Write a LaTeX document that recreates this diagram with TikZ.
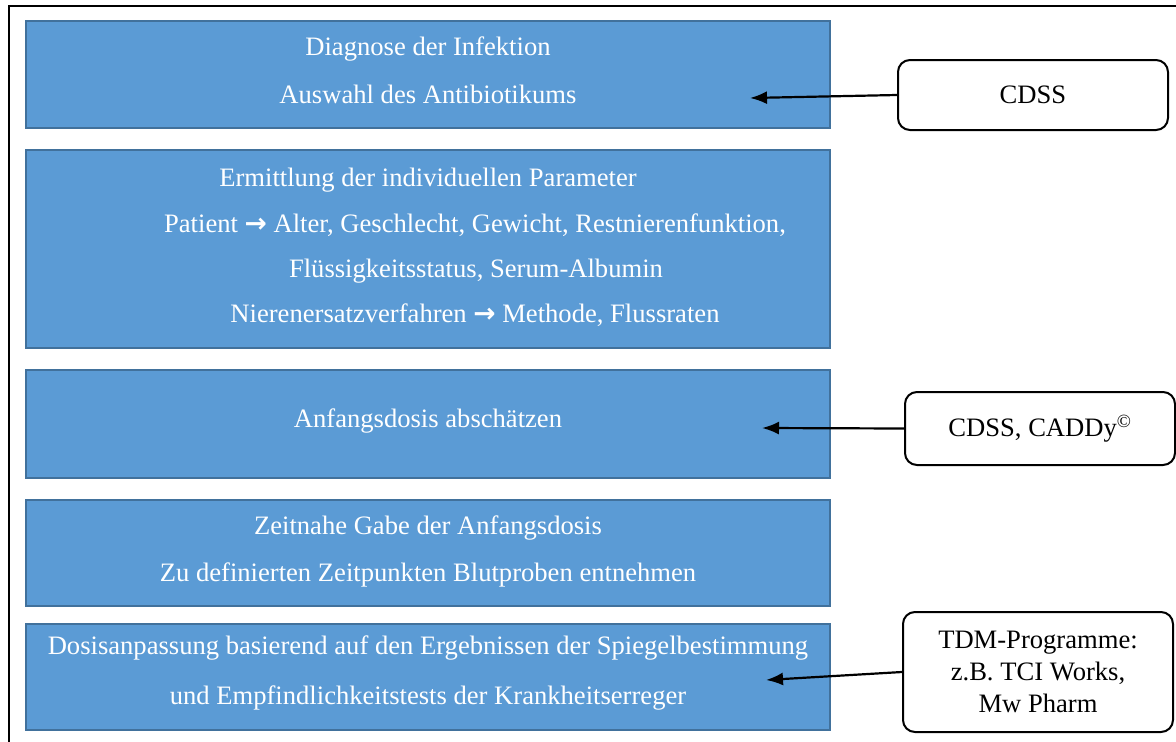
\documentclass[tikz,border=0pt]{standalone}
\usepackage{fontspec}
\setmainfont{Liberation Serif}
\newfontfamily\arrowfont{DejaVu Sans}
\usetikzlibrary{arrows.meta}
\definecolor{stageblue}{HTML}{5B9BD5}
\definecolor{stageline}{HTML}{41719C}
\newcommand{\thin}{{\arrowfont\bfseries →}}

\begin{document}
\begin{tikzpicture}[x=1pt,y=-1pt,
    stage/.style={rectangle,draw=stageline,fill=stageblue,line width=2pt,
                  minimum width=804pt,inner sep=0pt},
    stagetext/.style={text=white,font=\fontsize{26.6}{31}\selectfont,inner sep=0pt,anchor=base},
    tool/.style={rectangle,rounded corners=12pt,draw,line width=2pt,minimum width=270pt,
                 align=center,font=\fontsize{26.6}{32}\selectfont,inner sep=0pt},
    hint/.style={-{Latex[length=17pt,width=13pt]},line width=2.2pt}]
  \useasboundingbox (0,0) rectangle (1176,742);
  % frame
  \draw[line width=2.5pt] (9,742) -- (9,6) -- (1176,6);

  % steps
  \node[stage,minimum height=107pt] (diag) at (428,74.5) {};
  \node[stage,minimum height=198pt] (param) at (428,249) {};
  \node[stage,minimum height=108pt] (start) at (428,424) {};
  \node[stage,minimum height=106pt] (sample) at (428,553) {};
  \node[stage,minimum height=106pt] (adjust) at (428,677) {};

  \node[stagetext] (diag1) at (428,55) {Diagnose der Infektion};
  \node[stagetext] (diag2) at (428,103) {Auswahl des Antibiotikums};
  \node[stagetext] (param1) at (428,186) {Ermittlung der individuellen Parameter};
  \node[stagetext] (param2) at (475,232) {Patient \thin\ Alter, Geschlecht, Gewicht, Restnierenfunktion,};
  \node[stagetext] (param3) at (476,277) {Flüssigkeitsstatus, Serum-Albumin};
  \node[stagetext] (param4) at (475,322) {Nierenersatzverfahren \thin\ Methode, Flussraten};
  \node[stagetext] (start1) at (428,427) {Anfangsdosis abschätzen};
  \node[stagetext] (sample1) at (428,534) {Zeitnahe Gabe der Anfangsdosis};
  \node[stagetext] (sample2) at (428,581) {Zu definierten Zeitpunkten Blutproben entnehmen};
  \node[stagetext] (adjust1) at (428,654) {Dosisanpassung basierend auf den Ergebnissen der Spiegelbestimmung};
  \node[stagetext] (adjust2) at (428,704) {und Empfindlichkeitstests der Krankheitserreger};

  % tools
  \node[tool,minimum height=70pt] (cdss) at (1033,95) {CDSS};
  \node[tool,minimum height=73pt] (caddy) at (1040,428.5) {CDSS, CADDy\textsuperscript{\textcopyright}};
  \node[tool,minimum height=120pt] (tdm) at (1038,672) {TDM-Programme:\\z.B. TCI Works,\\Mw Pharm};

  \coordinate (diagin) at (750,98);
  \coordinate (startin) at (762,428);
  \coordinate (adjustin) at (766,680);

  \draw[hint] (cdss.west) -- (diagin);
  \draw[hint] (caddy.west) -- (startin);
  \draw[hint] (tdm.west) -- (adjustin);
\end{tikzpicture}
\end{document}
